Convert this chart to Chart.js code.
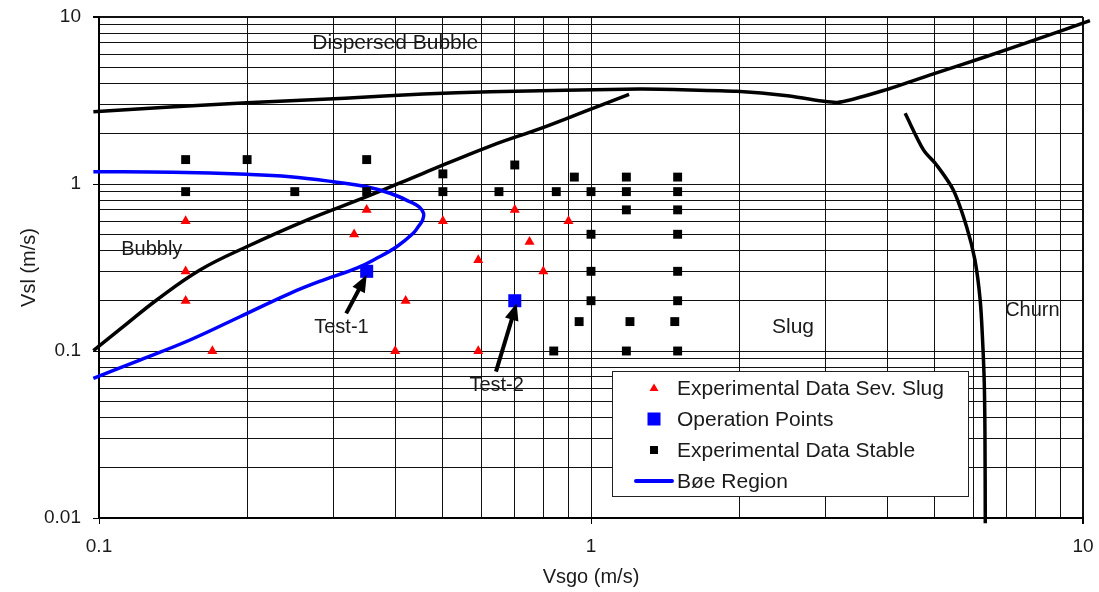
<!DOCTYPE html>
<html>
<head>
<meta charset="utf-8">
<title>Flow regime map – Vsgo vs Vsl</title>
<script src="https://cdn.jsdelivr.net/npm/chart.js@4.4.1/dist/chart.umd.min.js"></script>
<style>
  html, body { margin: 0; padding: 0; background: #ffffff; }
  #wrap { width: 1099px; height: 592px; }
  canvas { display: block; }
</style>
</head>
<body>
<div id="wrap"><canvas id="chart" width="1099" height="592"></canvas></div>
<script>
// ---- Axis ticks -------------------------------------------------------
const xTickValues = [0.1,0.2,0.3,0.4,0.5,0.6,0.7,0.8,0.9,1,2,3,4,5,6,7,8,9,10];
const xMajorValues = [0.1, 1, 10];
const xTickLabels = ['0.1', '1', '10'];
const yTickValues = [0.01,0.02,0.03,0.04,0.05,0.06,0.07,0.08,0.09,
                     0.1,0.2,0.3,0.4,0.5,0.6,0.7,0.8,0.9,1,2,3,4,5,6,7,8,9,10];
const yMajorValues = [0.01, 0.1, 1, 10];
const yTickLabels = ['0.01', '0.1', '1', '10'];

// ---- Experimental data, severe slugging (m/s) -------------------------
const sevSlugVsgo = [0.15, 0.35, 0.33, 0.50, 0.59, 0.15, 0.15, 0.42, 0.17, 0.40, 0.59, 0.70, 0.90, 0.75, 0.80];
const sevSlugVsl  = [0.60, 0.70, 0.50, 0.60, 0.35, 0.30, 0.20, 0.20, 0.10, 0.10, 0.10, 0.70, 0.60, 0.45, 0.30];

// ---- Operation points ---------------------------------------------------
const operationVsgo = [0.35, 0.70];
const operationVsl  = [0.30, 0.20];
const operationNames = ['Test-1', 'Test-2'];

// ---- Experimental data, stable flow -----------------------------------
const stableVsgo = [0.15, 0.20, 0.35, 0.50, 0.15, 0.25, 0.35, 0.50, 0.70, 0.925, 1.18, 1.50,
                    0.65, 0.85, 1.00, 1.18, 1.50, 1.18, 1.50, 1.00, 1.50, 1.00, 1.50, 1.00, 1.50,
                    0.946, 1.20, 1.48, 0.84, 1.18, 1.50];
const stableVsl  = [1.40, 1.40, 1.40, 1.15, 0.90, 0.90, 0.90, 0.90, 1.30, 1.10, 1.10, 1.10,
                    0.90, 0.90, 0.90, 0.90, 0.90, 0.70, 0.70, 0.50, 0.50, 0.30, 0.30, 0.20, 0.20,
                    0.15, 0.15, 0.15, 0.10, 0.10, 0.10];

// ---- Bøe region boundary ------------------------------------------------
const boeVsgo = [0.0974, 0.1413, 0.1996, 0.2446, 0.2996, 0.350, 0.3905, 0.4285, 0.4473, 0.4569, 0.4547,
                 0.4452, 0.4352, 0.4027, 0.3667, 0.334, 0.2857, 0.2446, 0.1934, 0.1531, 0.1211, 0.0974];
const boeVsl  = [1.185, 1.175, 1.143, 1.106, 1.032, 0.963, 0.880, 0.783, 0.729, 0.666, 0.608,
                 0.553, 0.507, 0.421, 0.359, 0.313, 0.266, 0.2216, 0.1604, 0.1164, 0.0883, 0.0686];

// ---- Regime transition lines -------------------------------------------
const dispersedVsgo = [0.0974, 0.1996, 0.316, 0.456, 0.624, 1.255, 1.589, 1.978, 2.507, 3.166, 4.004, 5.00, 6.34, 8.04, 10.33];
const dispersedVsl  = [2.71, 3.07, 3.26, 3.46, 3.57, 3.70, 3.66, 3.59, 3.38, 3.08, 3.69, 4.60, 5.78, 7.35, 9.50];

const bubblyVsgo = [0.0974, 0.112, 0.131, 0.1604, 0.1996, 0.2645, 0.350, 0.456, 0.624, 0.796, 1.0085, 1.195];
const bubblyVsl  = [0.1004, 0.1398, 0.2020, 0.3055, 0.421, 0.608, 0.839, 1.159, 1.688, 2.17, 2.84, 3.44];

const churnVsgo = [4.35, 4.74, 5.04, 5.45, 5.80, 6.03, 6.18, 6.25, 6.30, 6.32, 6.33];
const churnVsl  = [2.65, 1.60, 1.30, 0.921, 0.555, 0.351, 0.202, 0.1164, 0.0641, 0.0322, 0.00929];

// ---- Pointer arrows to the operation points ----------------------------
const arrowTailVsgo = [0.318, 0.641];
const arrowTailVsl  = [0.168, 0.0752];
const arrowTipVsgo  = [0.350, 0.706];
const arrowTipVsl   = [0.285, 0.193];
const arrowLabelVsgo = [0.311, 0.643];
const arrowLabelVsl  = [0.138, 0.0620];

// ---- Flow regime names --------------------------------------------------
const regimeNames = ['Dispersed Bubble', 'Bubbly', 'Slug', 'Churn'];
const regimeVsgo  = [0.40, 0.128, 2.574, 7.89];
const regimeVsl   = [6.94, 0.403, 0.139, 0.175];

const FONT = '"Liberation Sans", Arial, Helvetica, sans-serif';
const TEXT = '#1a1a1a';

function pts(xs, ys) { return xs.map((v, i) => ({ x: v, y: ys[i] })); }

// Arrows and region names, drawn in data space through the scales
const annotations = {
  id: 'annotations',
  afterDatasetsDraw(chart) {
    const { ctx, scales: { x, y } } = chart;
    ctx.save();
    for (let i = 0; i < arrowTailVsgo.length; i++) {
      const x0 = x.getPixelForValue(arrowTailVsgo[i]), y0 = y.getPixelForValue(arrowTailVsl[i]);
      const x1 = x.getPixelForValue(arrowTipVsgo[i]),  y1 = y.getPixelForValue(arrowTipVsl[i]);
      const a = Math.atan2(y1 - y0, x1 - x0);
      const headLen = 17, headHalf = 7;
      const bx = x1 - Math.cos(a) * headLen, by = y1 - Math.sin(a) * headLen;
      ctx.strokeStyle = '#000';
      ctx.lineWidth = 4;
      ctx.lineCap = 'butt';
      ctx.beginPath();
      ctx.moveTo(x0, y0);
      ctx.lineTo(bx + Math.cos(a) * 2, by + Math.sin(a) * 2);
      ctx.stroke();
      ctx.fillStyle = '#000';
      ctx.beginPath();
      ctx.moveTo(x1, y1);
      ctx.lineTo(bx + Math.sin(a) * headHalf, by - Math.cos(a) * headHalf);
      ctx.lineTo(bx - Math.sin(a) * headHalf, by + Math.cos(a) * headHalf);
      ctx.closePath();
      ctx.fill();

      ctx.fillStyle = TEXT;
      ctx.font = '20px ' + FONT;
      ctx.textAlign = 'center';
      ctx.textBaseline = 'middle';
      ctx.fillText(operationNames[i],
                   x.getPixelForValue(arrowLabelVsgo[i]),
                   y.getPixelForValue(arrowLabelVsl[i]));
    }
    ctx.fillStyle = TEXT;
    ctx.textAlign = 'center';
    ctx.textBaseline = 'middle';
    regimeNames.forEach((name, i) => {
      ctx.font = (i === 0 || i === 2 ? '21px ' : '20px ') + FONT;
      ctx.fillText(name, x.getPixelForValue(regimeVsgo[i]), y.getPixelForValue(regimeVsl[i]));
    });
    ctx.restore();
  }
};

// Boxed legend inside the plot area
const legendBox = {
  id: 'legendBox',
  afterDraw(chart) {
    const { ctx, chartArea: a } = chart;
    const left = a.right - 471, top = a.top + 354, w = 356, h = 125;
    ctx.save();
    ctx.fillStyle = '#ffffff';
    ctx.fillRect(left, top, w, h);
    ctx.strokeStyle = '#222';
    ctx.lineWidth = 1;
    ctx.strokeRect(left + 0.5, top + 0.5, w, h);

    const entries = [chart.data.datasets[1], chart.data.datasets[0], chart.data.datasets[2], chart.data.datasets[3]];
    const mx = left + 42, tx = left + 65;
    entries.forEach((ds, i) => {
      const cy = top + 17 + i * 31;
      ctx.fillStyle = ds.backgroundColor || ds.borderColor;
      if (ds.showLine) {
        ctx.strokeStyle = ds.borderColor;
        ctx.lineWidth = 4;
        ctx.lineCap = 'round';
        ctx.beginPath();
        ctx.moveTo(mx - 18, cy);
        ctx.lineTo(mx + 18, cy);
        ctx.stroke();
      } else if (ds.pointStyle === 'triangle') {
        ctx.beginPath();
        ctx.moveTo(mx, cy - 4.5);
        ctx.lineTo(mx + 4.5, cy + 3);
        ctx.lineTo(mx - 4.5, cy + 3);
        ctx.closePath();
        ctx.fill();
      } else {
        const s = ds.label === 'Operation Points' ? 13 : 8;
        ctx.fillRect(mx - s / 2, cy - s / 2, s, s);
      }
      ctx.fillStyle = TEXT;
      ctx.font = '21px ' + FONT;
      ctx.textAlign = 'left';
      ctx.textBaseline = 'middle';
      ctx.fillText(ds.label, tx, cy + 1);
    });
    ctx.restore();
  }
};

function tickLabel(values, labels) {
  return (v) => {
    const i = values.findIndex(m => Math.abs(m - v) < m * 1e-6);
    return i >= 0 ? labels[i] : '';
  };
}
function isMajor(values, v) {
  return values.some(m => Math.abs(m - v) < m * 1e-6);
}

Chart.defaults.font.family = FONT;
Chart.defaults.color = TEXT;

new Chart(document.getElementById('chart'), {
  type: 'scatter',
  data: {
    datasets: [
      { label: 'Operation Points', data: pts(operationVsgo, operationVsl),
        pointStyle: 'rect', pointRadius: 9.2, backgroundColor: '#0000ff', borderWidth: 0 },
      { label: 'Experimental Data Sev. Slug', data: pts(sevSlugVsgo, sevSlugVsl),
        pointStyle: 'triangle', pointRadius: 5.8, backgroundColor: '#ff0000', borderWidth: 0 },
      { label: 'Experimental Data Stable', data: pts(stableVsgo, stableVsl),
        pointStyle: 'rect', pointRadius: 6.3, backgroundColor: '#000000', borderWidth: 0 },
      { label: 'Bøe Region', data: pts(boeVsgo, boeVsl), showLine: true,
        borderColor: '#0000ff', borderWidth: 3.5, pointRadius: 0, tension: 0.4, clip: false },
      { label: 'Dispersed bubble transition', data: pts(dispersedVsgo, dispersedVsl), showLine: true,
        borderColor: '#000000', borderWidth: 3.5, pointRadius: 0, tension: 0.2, clip: false },
      { label: 'Bubbly–slug transition', data: pts(bubblyVsgo, bubblyVsl), showLine: true,
        borderColor: '#000000', borderWidth: 3.5, pointRadius: 0, tension: 0.4, clip: false },
      { label: 'Churn transition', data: pts(churnVsgo, churnVsl), showLine: true,
        borderColor: '#000000', borderWidth: 3.5, pointRadius: 0, tension: 0.3, clip: false }
    ]
  },
  options: {
    responsive: false,
    animation: false,
    events: [],
    layout: { padding: { top: 17, right: 16, left: 0, bottom: 0 } },
    plugins: { legend: { display: false }, tooltip: { enabled: false } },
    scales: {
      x: {
        type: 'logarithmic', position: 'bottom', min: 0.1, max: 10,
        afterBuildTicks: s => { s.ticks = xTickValues.map(v => ({ value: v, major: isMajor(xMajorValues, v) })); },
        afterFit: s => { s.height = 74; s.paddingLeft = 0; s.paddingRight = 0; },
        ticks: { autoSkip: false, maxRotation: 0, minRotation: 0, padding: 11,
                 font: { size: 19 }, color: TEXT, callback: tickLabel(xMajorValues, xTickLabels) },
        grid: {
          color: '#111',
          lineWidth: c => (c.tick && c.tick.value === 10 ? 2 : 1),
          tickLength: 6,
          tickColor: c => (c.tick && isMajor(xMajorValues, c.tick.value) ? '#000' : 'rgba(0,0,0,0)')
        },
        border: { color: '#000', width: 2 },
        title: { display: true, text: 'Vsgo (m/s)', font: { size: 20 }, color: TEXT,
                 padding: { top: 0, bottom: 3 } }
      },
      y: {
        type: 'logarithmic', position: 'left', min: 0.01, max: 10,
        afterBuildTicks: s => { s.ticks = yTickValues.map(v => ({ value: v, major: isMajor(yMajorValues, v) })); },
        afterFit: s => { s.width = 99; s.paddingTop = 0; s.paddingBottom = 0; },
        ticks: { autoSkip: false, padding: 12, font: { size: 19 }, color: TEXT,
                 callback: tickLabel(yMajorValues, yTickLabels) },
        grid: {
          color: '#111',
          lineWidth: c => (c.tick && c.tick.value === 10 ? 2 : 1),
          tickLength: 6,
          tickColor: c => (c.tick && isMajor(yMajorValues, c.tick.value) ? '#000' : 'rgba(0,0,0,0)')
        },
        border: { color: '#000', width: 2 },
        title: { display: true, text: 'Vsl (m/s)', font: { size: 20 }, color: TEXT,
                 padding: { top: 17, bottom: 0 } }
      }
    }
  },
  plugins: [annotations, legendBox]
});
</script>
</body>
</html>
